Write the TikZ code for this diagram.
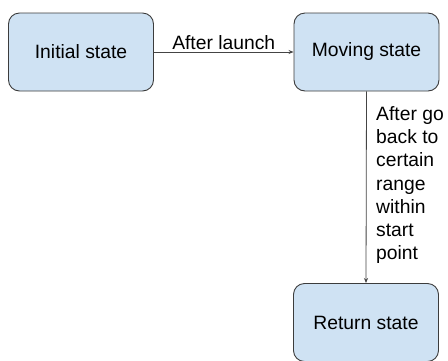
\documentclass[tikz,border=0pt]{standalone}
\usepackage{fontspec}
\setmainfont{Liberation Sans}
\usetikzlibrary{arrows.meta}
\definecolor{boxfill}{HTML}{CFE2F3}
\definecolor{boxline}{HTML}{3C3C3C}
\definecolor{arrline}{HTML}{444444}
\tikzset{
  state/.style={draw=boxline, fill=boxfill, line width=0.9pt, rounded corners=11pt,
    minimum width=145pt, minimum height=78pt, font=\fontsize{19.3}{22}\selectfont, inner sep=0pt},
  conn/.style={draw=arrline, line width=0.8pt, -{Stealth[length=5pt,width=4pt]}},
  lbl/.style={font=\fontsize{19.3}{23.3}\selectfont, inner sep=0pt}
}
\begin{document}
\begin{tikzpicture}[x=1pt,y=-1pt]
\useasboundingbox (0,0) rectangle (448,360);
\node[state] (init) at (81,52) {Initial state};
\node[state] (move) at (366.5,52) {Moving state};
\node[state] (ret) at (366,322.5) {Return state};
\draw[conn] (init.east) -- node[lbl, above=2pt] {After launch} (move.west);
\draw[conn] (move.south) -- (ret.north);
\node[lbl, align=left, anchor=north west] (txt) at (376,106) {After go\\back to\\certain\\range\\within\\start\\point};
\end{tikzpicture}
\end{document}
